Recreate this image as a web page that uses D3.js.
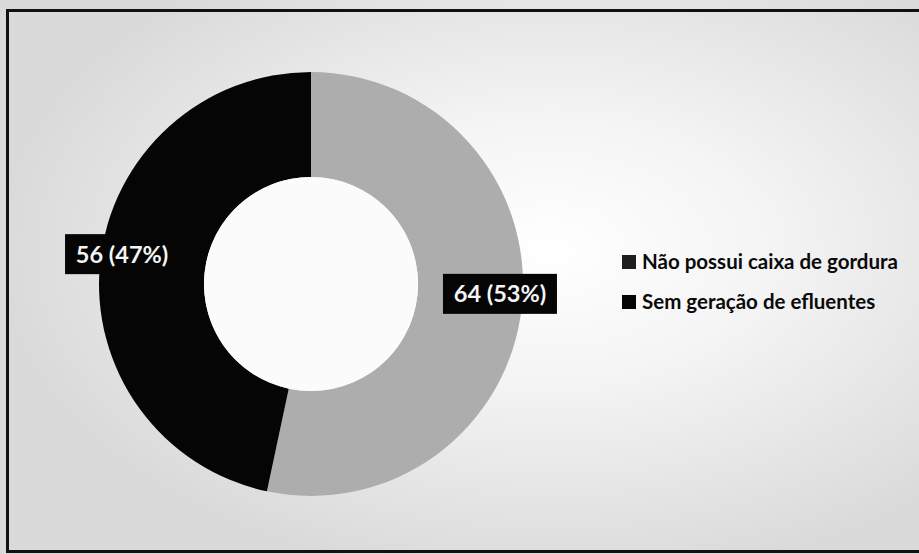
<!DOCTYPE html>
<html>
<head>
<meta charset="utf-8">
<script src="https://cdn.jsdelivr.net/npm/d3@7"></script>
<style>
  html, body { margin: 0; padding: 0; background: #e6e6e6; }
  svg { display: block; }
  text { font-family: Lato, "Open Sans", sans-serif; font-weight: 700; }
</style>
</head>
<body>
<svg id="chart" width="919" height="554"></svg>
<script>
// data
const categories = ['Não possui caixa de gordura', 'Sem geração de efluentes'];
const values = [64, 56];
const sliceColors = ['#adadad', '#050505'];
const legendColors = ['#1e1e1e', '#050505'];

const width = 919, height = 554;
const cx = 311, cy = 284;
const outerR = 212, innerR = 107, labelR = 190;

const svg = d3.select('#chart');

// scanned page background: light grey, washed out in the middle
const defs = svg.append('defs');
const grad = defs.append('radialGradient')
  .attr('id', 'bg')
  .attr('cx', 0.6).attr('cy', 0.45).attr('r', 0.6);
grad.append('stop').attr('offset', '0%').attr('stop-color', '#ffffff');
grad.append('stop').attr('offset', '40%').attr('stop-color', '#f4f4f4');
grad.append('stop').attr('offset', '100%').attr('stop-color', '#dadada');

svg.append('rect')
  .attr('x', 0).attr('y', 0)
  .attr('width', width).attr('height', height)
  .attr('fill', 'url(#bg)');

// frame (right edge falls off the page)
svg.append('rect')
  .attr('x', 7.5).attr('y', 10.5)
  .attr('width', width + 20).attr('height', 541)
  .attr('fill', 'none')
  .attr('stroke', '#111')
  .attr('stroke-width', 3);

const data = categories.map((c, i) => ({ name: c, value: values[i], color: sliceColors[i] }));
const total = d3.sum(values);

const pie = d3.pie()
  .sort(null)
  .value(d => d.value);

const arc = d3.arc()
  .innerRadius(innerR)
  .outerRadius(outerR);

const labelArc = d3.arc()
  .innerRadius(labelR)
  .outerRadius(labelR);

const g = svg.append('g')
  .attr('transform', `translate(${cx},${cy})`);

const arcs = pie(data);

g.selectAll('path.slice')
  .data(arcs)
  .enter().append('path')
  .attr('class', 'slice')
  .attr('d', arc)
  .attr('fill', d => d.data.color);

// hole
g.append('circle')
  .attr('r', innerR)
  .attr('fill', '#fbfbfb');

// data labels in black boxes
const labels = g.selectAll('g.lbl')
  .data(arcs)
  .enter().append('g')
  .attr('class', 'lbl')
  .attr('transform', d => {
    const [x, y] = labelArc.centroid(d);
    return `translate(${x},${y - 10})`;
  });

labels.append('rect')
  .attr('x', -57).attr('y', -20)
  .attr('width', 114).attr('height', 40)
  .attr('fill', '#050505');

labels.append('text')
  .attr('text-anchor', 'middle')
  .attr('dy', '0.36em')
  .attr('fill', '#f4f4f4')
  .style('font-size', '23.5px')
  .text(d => `${d.data.value} (${Math.round(d.data.value / total * 100)}%)`);

// legend
const legend = svg.append('g')
  .attr('transform', 'translate(622,262)');

const item = legend.selectAll('g.item')
  .data(data)
  .enter().append('g')
  .attr('class', 'item')
  .attr('transform', (d, i) => `translate(0,${i * 40})`);

item.append('rect')
  .attr('x', 0).attr('y', -7)
  .attr('width', 14).attr('height', 14)
  .attr('fill', (d, i) => legendColors[i]);

item.append('text')
  .attr('x', 20)
  .attr('dy', '0.36em')
  .attr('fill', '#0a0a0a')
  .style('font-size', '20.5px')
  .text(d => d.name);
</script>
</body>
</html>
